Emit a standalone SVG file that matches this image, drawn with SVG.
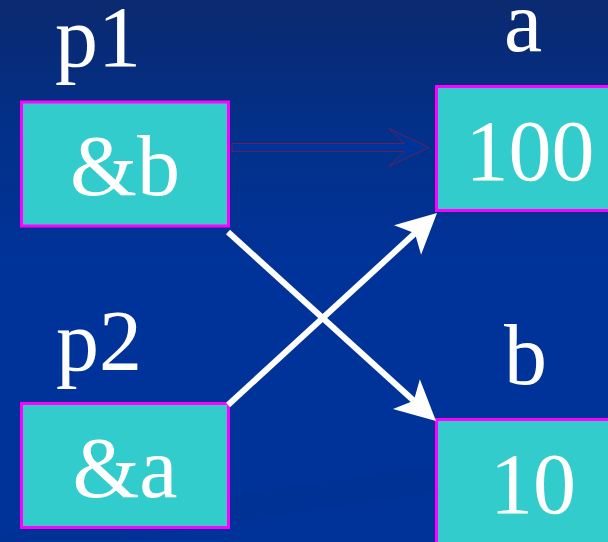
<svg xmlns="http://www.w3.org/2000/svg" width="608" height="542" viewBox="0 0 608 542">
  <defs>
    <linearGradient id="bg" x1="0" y1="0" x2="0" y2="1">
      <stop offset="0" stop-color="#0b296f"/>
      <stop offset="0.25" stop-color="#02308a"/>
      <stop offset="0.5" stop-color="#003399"/>
      <stop offset="1" stop-color="#003399"/>
    </linearGradient>
    <marker id="head" markerUnits="userSpaceOnUse" viewBox="-12 -22 44 44" markerWidth="44" markerHeight="44" refX="0" refY="0" orient="auto" overflow="visible">
      <path d="M30,0 L-10,-20 L0,0 L-10,20 Z" fill="#ffffff"/>
    </marker>
    <style>
      .box { fill: #33cccc; stroke: #ff00ff; stroke-width: 3; }
      .lbl { font-family: "Liberation Serif", "Times New Roman", serif; font-size: 86px; fill: #ffffff; }
      .val { font-family: "Liberation Serif", "Times New Roman", serif; font-size: 86px; fill: #ffffff; text-anchor: middle; }
      .ptr { stroke: #ffffff; stroke-width: 6; fill: none; marker-end: url(#head); }
    </style>
  </defs>

  <rect x="0" y="0" width="608" height="542" fill="url(#bg)"/>
  <path d="M0,542 L0,535 C150,505 350,478 608,440 L608,470 C380,500 200,525 120,542 Z" fill="#002c86" opacity="0.2"/>

  <g id="node-p1">
    <text class="lbl" x="55" y="66">p1</text>
    <rect class="box" x="21.5" y="102" width="207" height="124"/>
    <text class="val" x="125" y="195">&amp;b</text>
  </g>

  <g id="node-a">
    <text class="lbl" x="504" y="51">a</text>
    <rect class="box" x="436.5" y="86.5" width="200" height="124"/>
    <text class="val" x="530" y="180">100</text>
  </g>

  <g id="node-p2">
    <text class="lbl" x="56" y="370">p2</text>
    <rect class="box" x="21.5" y="403.5" width="207" height="124"/>
    <text class="val" x="125" y="497">&amp;a</text>
  </g>

  <g id="node-b">
    <text class="lbl" x="504" y="384">b</text>
    <rect class="box" x="436.5" y="419.5" width="200" height="150"/>
    <text class="val" x="533" y="513">10</text>
  </g>

  <g id="connectors">
    <polygon points="232,143.5 404,143.5 389,128.5 429,147.5 389,166.5 404,151.5 232,151.5" fill="#003399" stroke="#8a1c3c" stroke-width="0.7"/>
    <line class="ptr" x1="228" y1="232" x2="413.8" y2="400.8"/>
    <line class="ptr" x1="228" y1="405" x2="414.9" y2="233.3"/>
  </g>
</svg>
